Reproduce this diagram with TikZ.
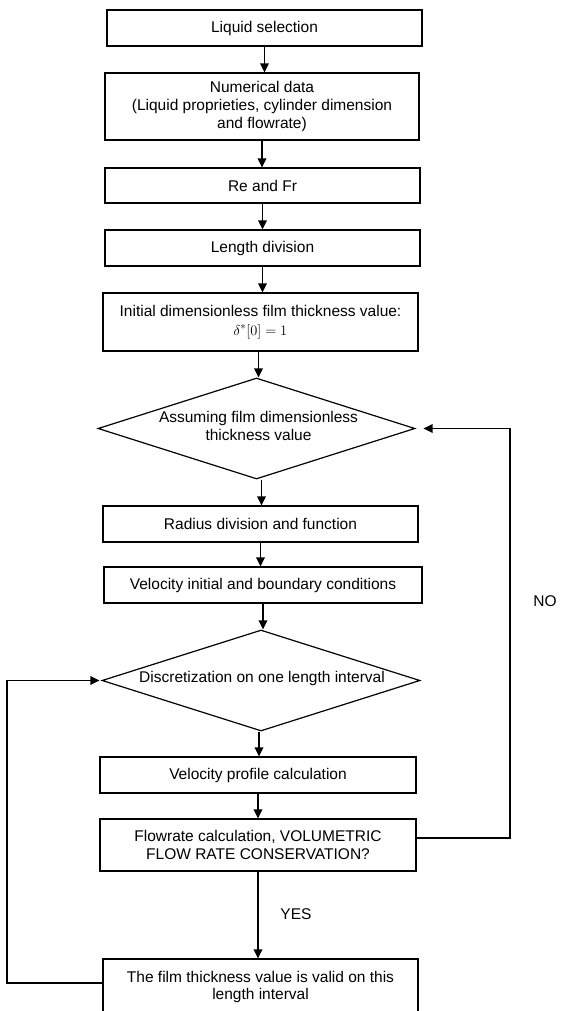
\documentclass[tikz,border=0pt]{standalone}
\usepackage{fontspec}
\setmainfont{Liberation Sans}
\usetikzlibrary{shapes.geometric,arrows.meta}
\begin{document}
\begin{tikzpicture}[x=1pt,y=-1pt,
  every node/.style={font=\fontsize{15.5pt}{17.8pt}\selectfont},
  box/.style={draw, line width=1.2pt, align=center, inner sep=0pt, minimum width=315pt},
  dia/.style={draw, shape=diamond, line width=1.2pt, align=center, inner sep=0pt, aspect=3.14, minimum width=317pt, minimum height=101pt},
  arr/.style={line width=1.8pt, -{Triangle[length=9pt,width=8.5pt]}},
  lbl/.style={inner sep=0pt}]
\useasboundingbox (0,0) rectangle (560,1011);
\fill[white] (0,0) rectangle (560,1011);

\node[box, minimum height=36pt] (b1) at (264.5,28) {Liquid selection};
\node[box, minimum height=67pt, minimum width=314pt] (b2) at (262,106.5) {Numerical data\\(Liquid proprieties, cylinder dimension\\and flowrate)};
\node[box, minimum height=35pt] (b3) at (262.5,185.5) {Re and Fr};
\node[box, minimum height=36pt] (b4) at (262.5,248) {Length division};
\node[box, minimum height=58pt] (b5) at (260.5,322) {Initial dimensionless film thickness value:\\[1pt]$\delta^{*}[0]=1$};
\node[dia] (d1) at (256.5,428.5) {};
\node[lbl, align=center] (t1) at (258.5,426) {Assuming film dimensionless\\thickness value};
\node[box, minimum height=36pt] (b6) at (260.5,524) {Radius division and function};
\node[box, minimum height=36pt, minimum width=318pt] (b7) at (263,585) {Velocity initial and boundary conditions};
\node[dia, minimum width=318pt] (d2) at (261,680.5) {};
\node[lbl] (t2) at (262,678) {Discretization on one length interval};
\node[box, minimum height=36pt, minimum width=316pt] (b8) at (258,775) {Velocity profile calculation};
\node[box, minimum height=52pt, minimum width=316pt] (b9) at (258,845) {Flowrate calculation, VOLUMETRIC\\FLOW RATE CONSERVATION?};
\node[box, minimum height=56pt] (b10) at (260.5,987) {The film thickness value is valid on this\\length interval};

\node[lbl] (no) at (545,601) {NO};
\node[lbl] (yes) at (296,914) {YES};

\coordinate (nr) at (510,0);
\coordinate (nl) at (7,0);

\draw[arr] (b1.south) -- (b1.south |- b2.north);
\draw[arr] (b2.south) -- (b2.south |- b3.north);
\draw[arr] (b3.south) -- (b3.south |- b4.north);
\draw[arr] (b4.south) -- (b4.south |- b5.north);
\draw[arr] ([xshift=-2pt]b5.south) -- ([xshift=-2pt]b5.south |- d1.north);
\draw[arr] ([xshift=5pt]d1.south) -- ([xshift=5pt]d1.south |- b6.north);
\draw[arr] (b6.south) -- (b6.south |- b7.north);
\draw[arr] (b7.south) -- (b7.south |- d2.north);
\draw[arr] ([xshift=-2pt]d2.south) -- ([xshift=-2pt]d2.south |- b8.north);
\draw[arr] (b8.south) -- (b8.south |- b9.north);
\draw[arr] (b9.south) -- (b9.south |- b10.north);
\draw[arr] ([yshift=7pt]b9.east) -| (nr |- d1.east) -- ([xshift=8pt]d1.east);
\draw[arr] ([yshift=4pt]b10.west) -| (nl |- d2.west) -- ([xshift=-2pt]d2.west);
\end{tikzpicture}
\end{document}
